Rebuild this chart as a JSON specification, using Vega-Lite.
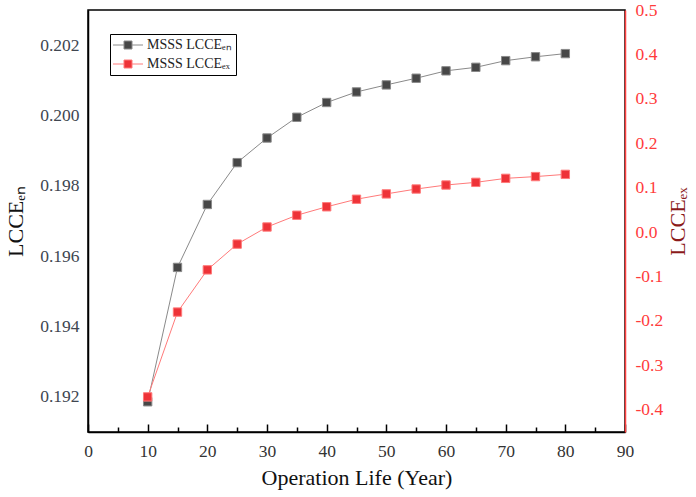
{
  "$schema": "https://vega.github.io/schema/vega-lite/v6.json",
  "width": 537,
  "height": 422,
  "autosize": "none",
  "padding": {"left": 88, "top": 10, "right": 71, "bottom": 65},
  "config": {
    "view": {"stroke": "black", "strokeWidth": 1.5},
    "font": "Liberation Serif",
    "axis": {"grid": false, "domainColor": "black", "domainWidth": 1.5, "labelFont": "Liberation Serif", "titleFont": "Liberation Serif", "labelFontSize": 17.5, "titleFontSize": 22, "titleFontWeight": "normal"}
  },
  "data": {"values": [
    {"year": 10, "series": "MSSS LCCEₑₙ", "value": 0.19186},
    {"year": 15, "series": "MSSS LCCEₑₙ", "value": 0.19568},
    {"year": 20, "series": "MSSS LCCEₑₙ", "value": 0.19747},
    {"year": 25, "series": "MSSS LCCEₑₙ", "value": 0.19866},
    {"year": 30, "series": "MSSS LCCEₑₙ", "value": 0.19936},
    {"year": 35, "series": "MSSS LCCEₑₙ", "value": 0.19995},
    {"year": 40, "series": "MSSS LCCEₑₙ", "value": 0.20037},
    {"year": 45, "series": "MSSS LCCEₑₙ", "value": 0.20067},
    {"year": 50, "series": "MSSS LCCEₑₙ", "value": 0.20087},
    {"year": 55, "series": "MSSS LCCEₑₙ", "value": 0.20106},
    {"year": 60, "series": "MSSS LCCEₑₙ", "value": 0.20127},
    {"year": 65, "series": "MSSS LCCEₑₙ", "value": 0.20137},
    {"year": 70, "series": "MSSS LCCEₑₙ", "value": 0.20156},
    {"year": 75, "series": "MSSS LCCEₑₙ", "value": 0.20167},
    {"year": 80, "series": "MSSS LCCEₑₙ", "value": 0.20176},
    {"year": 10, "series": "MSSS LCCEₑₓ", "value": -0.371},
    {"year": 15, "series": "MSSS LCCEₑₓ", "value": -0.180},
    {"year": 20, "series": "MSSS LCCEₑₓ", "value": -0.085},
    {"year": 25, "series": "MSSS LCCEₑₓ", "value": -0.027},
    {"year": 30, "series": "MSSS LCCEₑₓ", "value": 0.0115},
    {"year": 35, "series": "MSSS LCCEₑₓ", "value": 0.038},
    {"year": 40, "series": "MSSS LCCEₑₓ", "value": 0.057},
    {"year": 45, "series": "MSSS LCCEₑₓ", "value": 0.074},
    {"year": 50, "series": "MSSS LCCEₑₓ", "value": 0.086},
    {"year": 55, "series": "MSSS LCCEₑₓ", "value": 0.097},
    {"year": 60, "series": "MSSS LCCEₑₓ", "value": 0.106},
    {"year": 65, "series": "MSSS LCCEₑₓ", "value": 0.112},
    {"year": 70, "series": "MSSS LCCEₑₓ", "value": 0.121},
    {"year": 75, "series": "MSSS LCCEₑₓ", "value": 0.125},
    {"year": 80, "series": "MSSS LCCEₑₓ", "value": 0.130}
  ]},
  "encoding": {
    "x": {
      "field": "year", "type": "quantitative",
      "scale": {"domain": [0, 90], "nice": false, "zero": false},
      "axis": {
        "title": "Operation Life (Year)",
        "values": [0, 5, 10, 15, 20, 25, 30, 35, 40, 45, 50, 55, 60, 65, 70, 75, 80, 85, 90],
        "labelExpr": "datum.value % 10 === 0 ? datum.label : ''",
        "labelFont": "Liberation Serif",
        "titleFont": "Liberation Serif",
        "tickColor": "black",
        "tickWidth": 1.5,
        "tickSize": {"condition": {"test": "datum.value % 10 === 0", "value": -8}, "value": -5},
        "labelPadding": 18,
        "labelColor": "#333333",
        "titleColor": "#111111",
        "titlePadding": 8,
        "labelFlush": false
      }
    }
  },
  "layer": [
    {
      "transform": [{"filter": {"field": "series", "equal": "MSSS LCCEₑₙ"}}],
      "encoding": {
        "y": {
          "field": "value", "type": "quantitative",
          "scale": {"domain": [0.191, 0.203], "nice": false, "zero": false},
          "axis": {
            "orient": "left",
            "title": "LCCEₑₙ",
            "values": [0.192, 0.194, 0.196, 0.198, 0.2, 0.202],
            "format": ".3f",
            "labelFont": "Liberation Serif",
            "titleFont": "Liberation Serif",
            "ticks": false,
            "labelPadding": 9,
            "labelColor": "#404650",
            "titleColor": "#111111",
            "titleFontSize": 22,
            "titlePadding": 12
          }
        }
      },
      "layer": [
        {"mark": {"type": "line", "color": "#8a8a8a", "strokeWidth": 1}},
        {
          "mark": {"type": "point", "shape": "square", "filled": true, "size": 70, "strokeWidth": 1, "opacity": 1},
          "encoding": {
            "fill": {
              "field": "series", "type": "nominal",
              "scale": {"domain": ["MSSS LCCEₑₙ", "MSSS LCCEₑₓ"], "range": ["#474747", "#ee3338"]},
              "legend": {"title": null, "orient": "none", "legendX": 22, "legendY": 24, "strokeColor": "black", "padding": 4, "symbolType": "M-3,0H-0.8M0.8,0H3M-0.8,-0.8H0.8V0.8H-0.8Z", "symbolSize": 100, "symbolOffset": 7, "labelOffset": 12, "symbolStrokeWidth": 1, "labelFontSize": 14, "labelFont": "Liberation Serif", "labelColor": "#222222", "rowPadding": 5}
            },
            "stroke": {
              "field": "series", "type": "nominal",
              "scale": {"domain": ["MSSS LCCEₑₙ", "MSSS LCCEₑₓ"], "range": ["#8a8a8a", "#ff7a7a"]},
              "legend": {"title": null, "orient": "none", "legendX": 22, "legendY": 24, "strokeColor": "black", "padding": 4, "symbolType": "M-3,0H-0.8M0.8,0H3M-0.8,-0.8H0.8V0.8H-0.8Z", "symbolSize": 100, "symbolOffset": 7, "labelOffset": 12, "symbolStrokeWidth": 1, "labelFontSize": 14, "labelFont": "Liberation Serif", "labelColor": "#222222", "rowPadding": 5}
            }
          }
        }
      ]
    },
    {
      "transform": [{"filter": {"field": "series", "equal": "MSSS LCCEₑₓ"}}],
      "encoding": {
        "y": {
          "field": "value", "type": "quantitative",
          "scale": {"domain": [-0.45, 0.5], "nice": false, "zero": false},
          "axis": {
            "orient": "right",
            "title": "LCCEₑₓ",
            "values": [-0.4, -0.3, -0.2, -0.1, 0, 0.1, 0.2, 0.3, 0.4, 0.5],
            "labelExpr": "replace(format(datum.value, '.1f'), '−', '-')",
            "labelFont": "Liberation Serif",
            "titleFont": "Liberation Serif",
            "ticks": false,
            "labelPadding": 10,
            "labelColor": "#ff3b3b",
            "domainColor": "#ff4040",
            "titleColor": "#8b1a1a",
            "titleFontSize": 22,
            "titleAngle": -90,
            "titlePadding": 27
          }
        }
      },
      "layer": [
        {"mark": {"type": "line", "color": "#ff7a7a", "strokeWidth": 1}},
        {
          "mark": {"type": "point", "shape": "square", "filled": true, "size": 70, "strokeWidth": 1, "opacity": 1},
          "encoding": {
            "fill": {"field": "series", "type": "nominal"},
            "stroke": {"field": "series", "type": "nominal"}
          }
        }
      ]
    }
  ],
  "resolve": {"scale": {"y": "independent"}}
}
